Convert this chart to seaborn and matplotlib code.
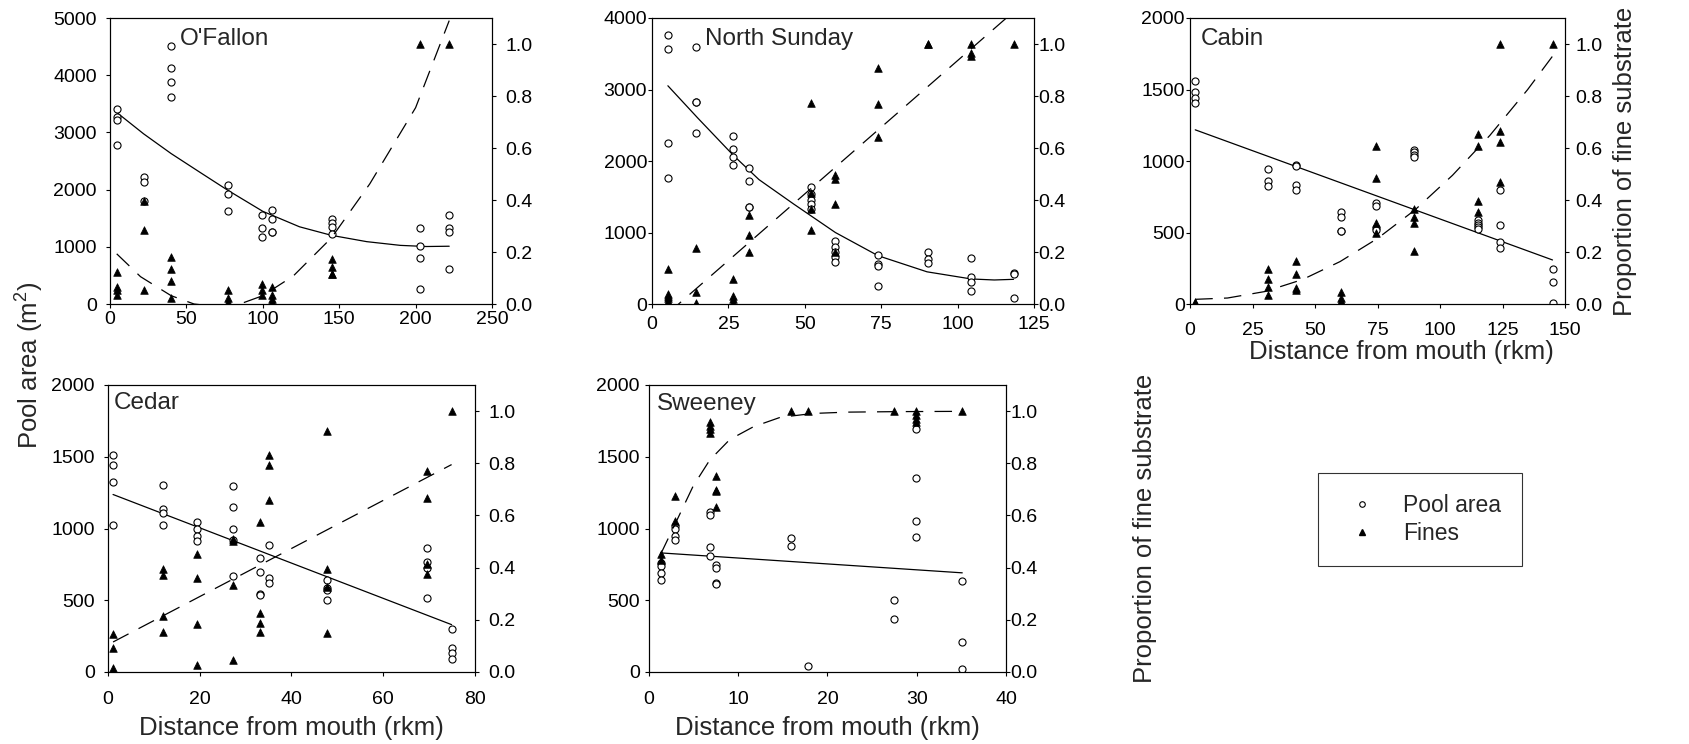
import numpy as np
import pandas as pd
import seaborn as sns
import matplotlib
matplotlib.use("Agg")
from matplotlib import pyplot as plt
from matplotlib.lines import Line2D
from matplotlib.ticker import FormatStrFormatter

# ---- data (distance in rkm, pool area in m2, proportion of fines) ----
ofallon_rkm = [4.4, 22.2, 39.7, 77.4, 99.4, 106.1, 145.2, 203.1, 221.9]
ofallon_pool = [[3413, 3267, 3209, 2777], [2217, 2141, 1803], [4504, 4125, 3874, 3623],
                [2089, 1925, 1634], [1558, 1330, 1178], [1645, 1488, 1254, 1254],
                [1482, 1424, 1354, 1219], [1336, 1009, 805, 263], [1558, 1336, 1260, 607]]
ofallon_fines = [[0.123, 0.064, 0.054, 0.035], [0.397, 0.284, 0.054], [0.182, 0.134, 0.089, 0.024],
                 [0.054, 0.024, 0.009], [0.078, 0.054, 0.035], [0.064, 0.035, 0.019, 0.009],
                 [0.172, 0.144, 0.116, 0.116], [1.0], [1.0]]
ofallon_pool_fit_x = [4.4, 22, 40, 59, 77, 100, 124, 145, 168, 190, 207, 222]
ofallon_pool_fit = [3349, 2975, 2630, 2300, 1990, 1620, 1350, 1200, 1090, 1025, 1005, 1010]
ofallon_fines_fit_x = [4.4, 20, 40, 55, 70, 85, 100, 120, 145, 170, 200, 222]
ofallon_fines_fit = [0.193, 0.105, 0.032, 0.0, -0.01, 0.0, 0.032, 0.108, 0.255, 0.462, 0.755, 1.09]

nsunday_rkm = [5.2, 14.5, 26.6, 31.8, 51.9, 60.0, 74.0, 90.2, 104.5, 118.3]
nsunday_pool = [[3757, 3561, 2250, 1760], [3589, 2828, 2828, 2394], [2352, 2170, 2049, 1951],
                [1909, 1718, 1358, 1358], [1634, 1536, 1461, 1396, 1330], [877, 803, 733, 663, 588],
                [691, 555, 532, 247], [723, 630, 569], [649, 383, 313, 187], [429, 420, 89]]
nsunday_fines = [[0.134, 0.037, 0.031, 0.024, 0.012], [0.214, 0.046, 0.003], [0.096, 0.031, 0.018, 0.003],
                 [0.343, 0.266, 0.199], [0.772, 0.426, 0.366, 0.285], [0.497, 0.479, 0.385, 0.199],
                 [0.908, 0.769, 0.644], [1.0, 1.0], [1.0, 0.965, 0.955], [1.0]]
nsunday_pool_fit_x = [5.2, 15, 26.6, 35, 46.3, 60, 74, 90, 104.5, 112, 118.3]
nsunday_pool_fit = [3052, 2600, 2080, 1740, 1400, 1000, 675, 450, 350, 336, 345]
nsunday_fines_fit_x = [5.2, 118.3]
nsunday_fines_fit = [-0.036, 1.124]

cabin_rkm = [2.1, 31.1, 42.3, 60.3, 74.5, 89.5, 115.1, 123.9, 145.0]
cabin_pool = [[1561, 1480, 1440, 1403], [945, 857, 822], [973, 962, 833, 798], [646, 607, 511, 511],
              [705, 688, 530, 518], [1080, 1062, 1039, 1027], [586, 569, 553, 537, 527],
              [798, 553, 432, 394], [243, 154, 7]]
cabin_fines = [[0.009, 0.003], [0.134, 0.095, 0.067, 0.035], [0.166, 0.114, 0.060, 0.054],
               [0.045, 0.024, 0.012, 0.005], [0.606, 0.484, 0.313, 0.272], [0.366, 0.334, 0.313, 0.202],
               [0.653, 0.606, 0.397, 0.353], [1.0, 0.666, 0.625, 0.471], [1.0]]
cabin_pool_fit_x = [2.1, 145.0]
cabin_pool_fit = [1218, 308]
cabin_fines_fit_x = [2.1, 15, 30, 45, 60, 75, 90, 105, 120, 135, 145]
cabin_fines_fit = [0.018, 0.023, 0.048, 0.094, 0.163, 0.252, 0.362, 0.495, 0.649, 0.824, 0.953]

cedar_rkm = [1.1, 12.05, 19.5, 27.2, 33.2, 35.0, 47.7, 69.5, 74.9]
cedar_pool = [[1512, 1440, 1326, 1023], [1300, 1137, 1105, 1021], [1042, 998, 951, 912],
              [1295, 1153, 998, 919, 667], [795, 698, 547, 540], [888, 656, 619],
              [640, 588, 570, 505], [867, 767, 728, 519], [300, 167, 133, 93]]
cedar_fines = [[0.147, 0.093, 0.014], [0.394, 0.371, 0.215, 0.153], [0.454, 0.362, 0.185, 0.026],
               [0.508, 0.501, 0.335, 0.045], [0.574, 0.225, 0.187, 0.155], [0.831, 0.793, 0.659],
               [0.923, 0.394, 0.326, 0.150], [0.772, 0.665, 0.414, 0.376], [1.0]]
cedar_pool_fit_x = [1.1, 74.9]
cedar_pool_fit = [1237, 330]
cedar_fines_fit_x = [1.1, 74.9]
cedar_fines_fit = [0.115, 0.795]

sweeney_rkm = [1.3, 2.95, 6.8, 7.55, 15.9, 17.85, 27.5, 29.9, 35.1]
sweeney_pool = [[760, 740, 690, 640], [1019, 1000, 947, 921], [1114, 1093, 872, 809],
                [749, 728, 621, 612], [937, 881], [42], [505, 372], [1691, 1351, 1051, 944],
                [635, 209, 19]]
sweeney_fines = [[0.454, 0.430], [0.673, 0.579], [0.959, 0.944, 0.930, 0.917],
                 [0.751, 0.699, 0.693, 0.633], [1.0], [1.0], [1.0], [1.0, 0.985, 0.968, 0.957], [1.0]]
sweeney_pool_fit_x = [1.3, 35.1]
sweeney_pool_fit = [830, 691]
sweeney_fines_fit_x = [1.3, 2.95, 4.94, 6.8, 9.05, 11.7, 14.7, 18.4, 22.2, 28, 35.1]
sweeney_fines_fit = [0.451, 0.569, 0.712, 0.812, 0.891, 0.94, 0.976, 0.991, 0.996, 0.998, 0.999]

sns.set_style("ticks")
plt.rcParams['font.family'] = ['Liberation Sans', 'DejaVu Sans']
plt.rcParams['mathtext.default'] = 'regular'

W, H = 1690, 744
fig = plt.figure(figsize=(W / 100, H / 100), dpi=100)

DASH = (0, (14, 9))


def long_form(rkm, groups, col):
    rows = [(x, v) for x, vals in zip(rkm, groups) for v in vals]
    return pd.DataFrame(rows, columns=['rkm', col])


def panel(px, name, rkm, pool, fines, pool_fit, fines_fit, xmax, xstep, ymax, ystep,
          name_pos, pads):
    left, top, right, bottom = px
    ax = fig.add_axes([left / W, 1 - bottom / H, (right - left) / W, (bottom - top) / H])
    ax2 = ax.twinx()
    lpad, rpad, bpad = pads

    dp = long_form(rkm, pool, 'pool')
    df = long_form(rkm, fines, 'fines')
    sns.scatterplot(data=dp, x='rkm', y='pool', ax=ax, marker='o', s=26,
                    facecolor='white', edgecolor='black', linewidth=0.8, zorder=3)
    sns.lineplot(x=pool_fit[0], y=pool_fit[1], ax=ax, color='black', lw=0.9,
                 estimator=None, sort=True, zorder=2)
    sns.scatterplot(data=df, x='rkm', y='fines', ax=ax2, marker='^', s=30,
                    color='black', edgecolor='black', linewidth=0.5, zorder=3)
    sns.lineplot(x=fines_fit[0], y=fines_fit[1], ax=ax2, color='black', lw=0.9,
                 linestyle=DASH, estimator=None, sort=True, zorder=2)

    ax.set_xlim(0, xmax)
    ax.set_xticks(np.arange(0, xmax + 0.1, xstep))
    ax.set_ylim(0, ymax)
    ax.set_yticks(np.arange(0, ymax + 1, ystep))
    ax2.set_ylim(0, 1.1)
    ax2.set_yticks([0, 0.2, 0.4, 0.6, 0.8, 1.0])
    ax2.yaxis.set_major_formatter(FormatStrFormatter('%.1f'))
    ax.set_xlabel('')
    ax.set_ylabel('')
    ax2.set_ylabel('')

    for a in (ax, ax2):
        for s in a.spines.values():
            s.set_visible(True)
            s.set_color('black')
            s.set_linewidth(0.8)
        a.tick_params(direction='out', length=3, width=0.8, colors='black', labelsize=14)
    ax.tick_params(axis='y', pad=lpad)
    ax.tick_params(axis='x', pad=bpad)
    ax2.tick_params(axis='y', pad=rpad)

    ax.text(name_pos[0], name_pos[1], name, transform=ax.transAxes, fontsize=17.5,
            ha='left', va='center')
    return ax, ax2


ax1, _ = panel((110, 18, 492, 304), "O'Fallon", ofallon_rkm, ofallon_pool, ofallon_fines,
               (ofallon_pool_fit_x, ofallon_pool_fit), (ofallon_fines_fit_x, ofallon_fines_fit),
               250, 50, 5000, 1000, (0.183, 0.927), (6.5, 6.5, 2.0))
ax2_, _ = panel((652, 18, 1034, 304), "North Sunday", nsunday_rkm, nsunday_pool, nsunday_fines,
                (nsunday_pool_fit_x, nsunday_pool_fit), (nsunday_fines_fit_x, nsunday_fines_fit),
                125, 25, 4000, 1000, (0.139, 0.927), (0.5, 0.3, 5.5))
ax3, ax3r = panel((1190, 18, 1565, 304), "Cabin", cabin_rkm, cabin_pool, cabin_fines,
                  (cabin_pool_fit_x, cabin_pool_fit), (cabin_fines_fit_x, cabin_fines_fit),
                  150, 25, 2000, 500, (0.029, 0.927), (0.7, 4.3, 10.0))
ax4, _ = panel((108, 385, 475, 672), "Cedar", cedar_rkm, cedar_pool, cedar_fines,
               (cedar_pool_fit_x, cedar_pool_fit), (cedar_fines_fit_x, cedar_fines_fit),
               80, 20, 2000, 500, (0.016, 0.937), (6.5, 6.5, 10.5))
ax5, ax5r = panel((649, 385, 1006, 672), "Sweeney", sweeney_rkm, sweeney_pool, sweeney_fines,
                  (sweeney_pool_fit_x, sweeney_pool_fit), (sweeney_fines_fit_x, sweeney_fines_fit),
                  40, 10, 2000, 500, (0.022, 0.934), (3.6, 0.3, 10.5))

# axis titles
for a, xc, yc in ((ax3, 0.565, -0.125), (ax4, 0.5, -0.155), (ax5, 0.5, -0.155)):
    a.set_xlabel('Distance from mouth (rkm)', fontsize=18.5)
    a.xaxis.set_label_coords(xc, yc)
for a, xc in ((ax3r, 1.128), (ax5r, 1.356)):
    a.set_ylabel('Proportion of fine substrate', fontsize=18.5)
    a.yaxis.set_label_coords(xc, 0.5)
fig.text(30 / W, 1 - 365 / H, 'Pool area (m$^2$)', rotation=90, fontsize=18.5,
         ha='center', va='center')

handles = [Line2D([], [], marker='o', linestyle='none', markersize=4, markerfacecolor='white',
                  markeredgecolor='black', markeredgewidth=0.8),
           Line2D([], [], marker='^', linestyle='none', markersize=4.5, color='black')]
leg = fig.legend(handles, ['Pool area', 'Fines'], loc='center',
                 bbox_to_anchor=(1420 / W, 1 - 519.5 / H), fontsize=16.5, frameon=True,
                 fancybox=False, edgecolor='black', borderpad=0.9, handlelength=2.0,
                 handletextpad=0.8, labelspacing=0.25, borderaxespad=0)
leg.get_frame().set_linewidth(0.8)

fig.savefig('out.png', dpi=100)
